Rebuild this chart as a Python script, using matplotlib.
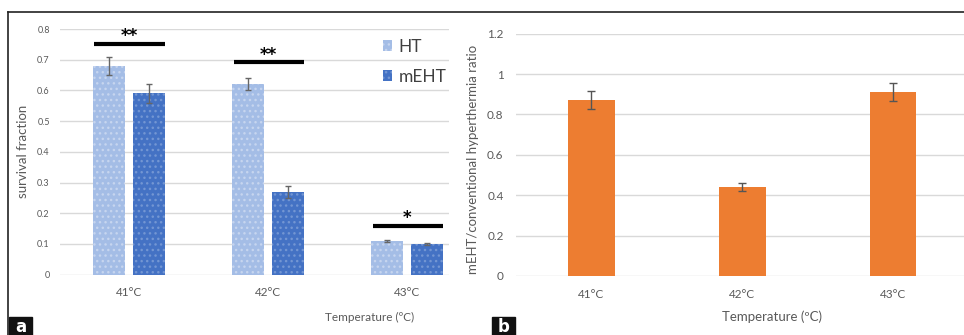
import numpy as np
import matplotlib
matplotlib.use('Agg')
import matplotlib.pyplot as plt
from matplotlib.patches import Rectangle
from matplotlib.lines import Line2D

plt.rcParams['font.family'] = ['Lato', 'DejaVu Sans']
plt.rcParams['hatch.linewidth'] = 1.0

# data
temps = ['41°C', '42°C', '43°C']
ht = [0.68, 0.62, 0.11]
ht_err = [0.03, 0.02, 0.002]
meht = [0.59, 0.27, 0.10]
meht_err = [0.03, 0.02, 0.002]
sig_y = [0.752, 0.692, 0.159]
sig_txt = ['**', '**', '*']
ratio = [0.87, 0.44, 0.91]
ratio_err = [0.045, 0.02, 0.045]

GRID = '#D9D9D9'
TXT = '#595959'
C_HT = '#A4BDE6'
C_ME = '#4472C4'
C_OR = '#ED7D31'

fig = plt.figure(figsize=(9.64, 3.35), dpi=100, facecolor='white')

# ---- panel a
ax = fig.add_axes([59.5 / 964, 60.3 / 335, 389.5 / 964, 245.7 / 335])
x = np.arange(len(temps))
w = 0.23
off = 0.144
b1 = ax.bar(x - off, ht, w, color=C_HT, edgecolor='#C6D5EF', hatch='...', linewidth=0, zorder=2)
b2 = ax.bar(x + off, meht, w, color=C_ME, edgecolor='#7396D3', hatch='...', linewidth=0, zorder=2)
ax.errorbar(x - off, ht, yerr=ht_err, fmt='none', ecolor='#666666', elinewidth=1, capsize=2.5, zorder=3)
ax.errorbar(x + off, meht, yerr=meht_err, fmt='none', ecolor='#666666', elinewidth=1, capsize=2.5, zorder=3)
for i in range(len(temps)):
    ax.plot([x[i] - off - w / 2 + 0.01, x[i] + off + w / 2], [sig_y[i], sig_y[i]],
            color='black', lw=3, solid_capstyle='butt', zorder=4, clip_on=False)
    ax.text(x[i], sig_y[i] - 0.005, sig_txt[i], ha='center', va='bottom', fontsize=12,
            fontweight='bold', color='black', family='DejaVu Sans', clip_on=False)
ax.set_xlim(-0.5, 2.30)
ax.set_ylim(0, 0.8)
ax.set_yticks(np.arange(0, 0.81, 0.1))
ax.set_yticklabels(['0', '0.1', '0.2', '0.3', '0.4', '0.5', '0.6', '0.7', '0.8'])
ax.set_xticks(x)
ax.set_xticklabels(temps)
ax.grid(axis='y', color=GRID, lw=1, zorder=0)
ax.set_axisbelow(True)
for s in ax.spines.values():
    s.set_visible(False)
ax.tick_params(axis='y', length=0, pad=7, labelsize=6.5, labelcolor=TXT)
ax.tick_params(axis='x', length=0, pad=9, labelsize=8.5, labelcolor=TXT)
ax.set_ylabel('survival fraction', fontsize=9.5, color=TXT, labelpad=6)
ax.legend([b1, b2], ['HT', 'mEHT'], loc='upper left', bbox_to_anchor=(0.83, 0.96),
          frameon=False, fontsize=12.5, handlelength=0.55, handleheight=0.55,
          handletextpad=0.35, labelspacing=0.8, borderpad=0, borderaxespad=0,
          labelcolor='#404040')
fig.text(370 / 964, 1 - 317 / 335, 'Temperature (ºC)', ha='center', va='center', fontsize=8.5, color=TXT)

# ---- panel b
bx = fig.add_axes([516 / 964, 59 / 335, 448 / 964, 242.3 / 335])
bx.bar(x, ratio, 0.31, color=C_OR, zorder=2)
bx.errorbar(x, ratio, yerr=ratio_err, fmt='none', ecolor='#555555', elinewidth=1, capsize=3, zorder=3)
bx.set_xlim(-0.5, 2.47)
bx.set_ylim(0, 1.2)
bx.set_yticks([0, 0.2, 0.4, 0.6, 0.8, 1.0, 1.2])
bx.set_yticklabels(['0', '0.2', '0.4', '0.6', '0.8', '1', '1.2'])
bx.set_xticks(x)
bx.set_xticklabels(temps)
bx.grid(axis='y', color=GRID, lw=1, zorder=0)
bx.set_axisbelow(True)
for s in bx.spines.values():
    s.set_visible(False)
bx.tick_params(axis='y', length=0, pad=9, labelsize=8.5, labelcolor=TXT)
bx.tick_params(axis='x', length=0, pad=9, labelsize=8.5, labelcolor=TXT)
fig.text(473 / 964, 1 - 159 / 335, 'mEHT/conventional hyperthermia ratio', rotation=90,
         ha='center', va='center', fontsize=9.5, color=TXT)
fig.text(772 / 964, 1 - 317 / 335, 'Temperature (ºC)', ha='center', va='center', fontsize=9.5, color=TXT)

# frame lines and panel labels
fig.add_artist(Line2D([8 / 964, 1], [1 - 12 / 335] * 2, color='#222222', lw=1.2))
fig.add_artist(Line2D([8 / 964, 8 / 964], [1 - 12 / 335, 0], color='#222222', lw=1.2))
for lx, lab in [(9, 'a'), (492, 'b')]:
    fig.add_artist(Rectangle((lx / 964, 0), 23 / 964, 18 / 335, color='#111111', transform=fig.transFigure))
    fig.text((lx + 11.5) / 964, 8 / 335, lab, ha='center', va='center', color='white',
             fontsize=12, fontweight='bold', family='DejaVu Sans')

fig.savefig('out.png', dpi=100, facecolor='white')
